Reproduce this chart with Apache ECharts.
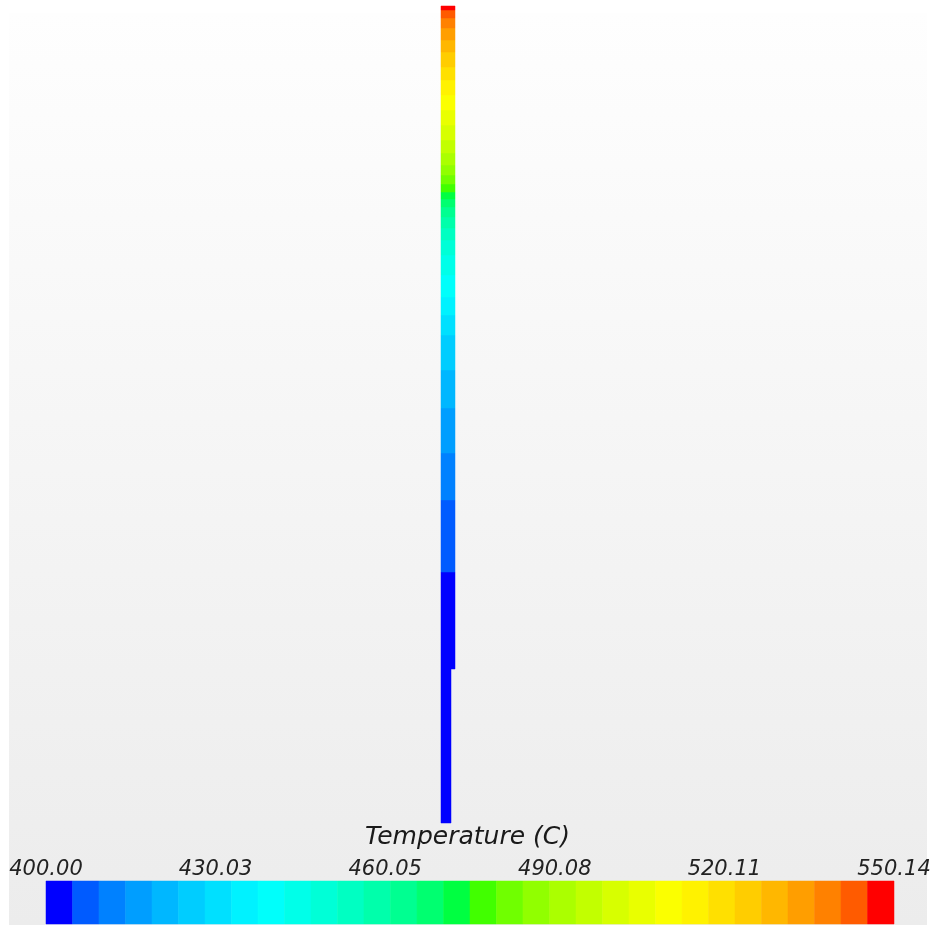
<!DOCTYPE html>
<html>
<head>
<meta charset="utf-8">
<script src="https://cdn.jsdelivr.net/npm/echarts@6/dist/echarts.min.js"></script>
<style>
html,body{margin:0;padding:0;background:#ffffff;}
#chart{width:935px;height:925px;}
</style>
</head>
<body>
<div id="chart"></div>
<script>
// ---- data ----
// colour-bar level boundaries (Temperature, C)
const levels = [400.00, 404.69, 409.38, 414.08, 418.77, 423.46, 428.15, 432.84, 437.54, 442.23, 446.92,
  451.61, 456.30, 460.99, 465.69, 470.38, 475.07, 479.76, 484.45, 489.15, 493.84, 498.53, 503.22,
  507.91, 512.61, 517.30, 521.99, 526.68, 531.37, 536.06, 540.76, 545.45, 550.14];
// colour-bar tick values and labels
const tickValues = [400.00, 430.03, 460.05, 490.08, 520.11, 550.14];
const tickLabels = ['400.00', '430.03', '460.05', '490.08', '520.11', '550.14'];
// rod: segment edges along the rod (distance from bottom), temperature per segment, section width
const rodEdges = [0, 154, 251, 323, 370, 415, 453, 488, 508, 526, 548, 568, 583, 595, 606, 616, 624,
  631, 639, 648, 658, 670, 683, 698, 713, 728, 743, 756, 771, 783, 795, 805, 813, 817];
const rodTemps = [402, 402, 407, 412, 416, 421, 426, 430, 435, 440, 445, 449, 454, 459, 463, 468, 473,
  477, 482, 487, 491, 496, 501, 505, 510, 515, 520, 524, 529, 534, 538, 543, 548];
const rodWidths = [10, 14, 14, 14, 14, 14, 14, 14, 14, 14, 14, 14, 14, 14, 14, 14, 14,
  14, 14, 14, 14, 14, 14, 14, 14, 14, 14, 14, 14, 14, 14, 14, 14];

// ---- style: blue-red colormap, 32 bands ----
const palette = ['#0000ff', '#005bff', '#0081ff', '#009eff', '#00b7ff', '#00cdff', '#00e0ff', '#00f2ff',
  '#00fffb', '#00ffe9', '#00ffd7', '#00ffc2', '#00ffab', '#00ff91', '#00ff70', '#00ff41',
  '#41ff00', '#70ff00', '#91ff00', '#abff00', '#c2ff00', '#d7ff00', '#e9ff00', '#fbff00',
  '#fff200', '#ffe000', '#ffcd00', '#ffb700', '#ff9e00', '#ff8100', '#ff5b00', '#ff0000'];

const pieces = palette.map((c, k) => (k === palette.length - 1)
  ? { gte: levels[k], lte: levels[k + 1], color: c }
  : { gte: levels[k], lt: levels[k + 1], color: c });

const rodData = rodTemps.map((t, i) => [t, rodEdges[i], rodEdges[i + 1], rodWidths[i]]);
const barData = palette.map((c, k) => [levels[k], levels[k + 1]]);

const chart = echarts.init(document.getElementById('chart'), null, { renderer: 'canvas' });
const FONT = 'DejaVu Sans';

chart.setOption({
  animation: false,
  backgroundColor: '#ffffff',
  graphic: [{
    type: 'rect', z: -10, silent: true,
    shape: { x: 9, y: 13, width: 918, height: 912 },
    style: {
      fill: new echarts.graphic.LinearGradient(0, 0, 0, 1, [
        { offset: 0, color: '#fefefe' }, { offset: 1, color: '#ececec' }
      ])
    }
  }],
  title: {
    text: 'Temperature (C)',
    left: 'center',
    top: 820,
    textStyle: { fontFamily: FONT, fontStyle: 'italic', fontWeight: 'normal', fontSize: 25, color: '#1a1a1a' }
  },
  visualMap: {
    type: 'piecewise', show: false, dimension: 0, seriesIndex: [0, 1],
    pieces: pieces
  },
  grid: [
    { left: 441, top: 6, width: 14, height: 817 },
    { left: 46, top: 881, width: 848, height: 43 }
  ],
  xAxis: [
    { gridIndex: 0, type: 'value', min: 0, max: 14, show: false },
    {
      gridIndex: 1, type: 'value', min: 400, max: 550.14, position: 'top',
      axisLine: { show: false }, axisTick: { show: false }, splitLine: { show: false },
      axisLabel: {
        customValues: tickValues,
        showMinLabel: true, showMaxLabel: true,
        margin: 1,
        formatter: (v) => { const i = tickValues.findIndex(t => Math.abs(t - v) < 1e-6); return i >= 0 ? tickLabels[i] : ''; },
        fontFamily: FONT, fontStyle: 'italic', fontSize: 21, color: '#222222'
      }
    }
  ],
  yAxis: [
    { gridIndex: 0, type: 'value', min: 0, max: 817, show: false },
    { gridIndex: 1, type: 'value', min: 0, max: 1, show: false }
  ],
  series: [
    {
      type: 'custom', xAxisIndex: 0, yAxisIndex: 0, data: rodData,
      renderItem: (params, api) => {
        const p0 = api.coord([0, api.value(1)]);
        const p1 = api.coord([api.value(3), api.value(2)]);
        const col = api.visual('color');
        return {
          type: 'rect',
          shape: { x: p0[0], y: p1[1], width: p1[0] - p0[0], height: p0[1] - p1[1] },
          style: { fill: col, stroke: col, lineWidth: 0.5 }
        };
      }
    },
    {
      type: 'custom', xAxisIndex: 1, yAxisIndex: 1, data: barData,
      renderItem: (params, api) => {
        const p0 = api.coord([api.value(0), 0]);
        const p1 = api.coord([api.value(1), 1]);
        const col = api.visual('color');
        return {
          type: 'rect',
          shape: { x: p0[0], y: p1[1], width: p1[0] - p0[0], height: p0[1] - p1[1] },
          style: { fill: col, stroke: col, lineWidth: 0.5 }
        };
      }
    }
  ]
});
</script>
</body>
</html>
